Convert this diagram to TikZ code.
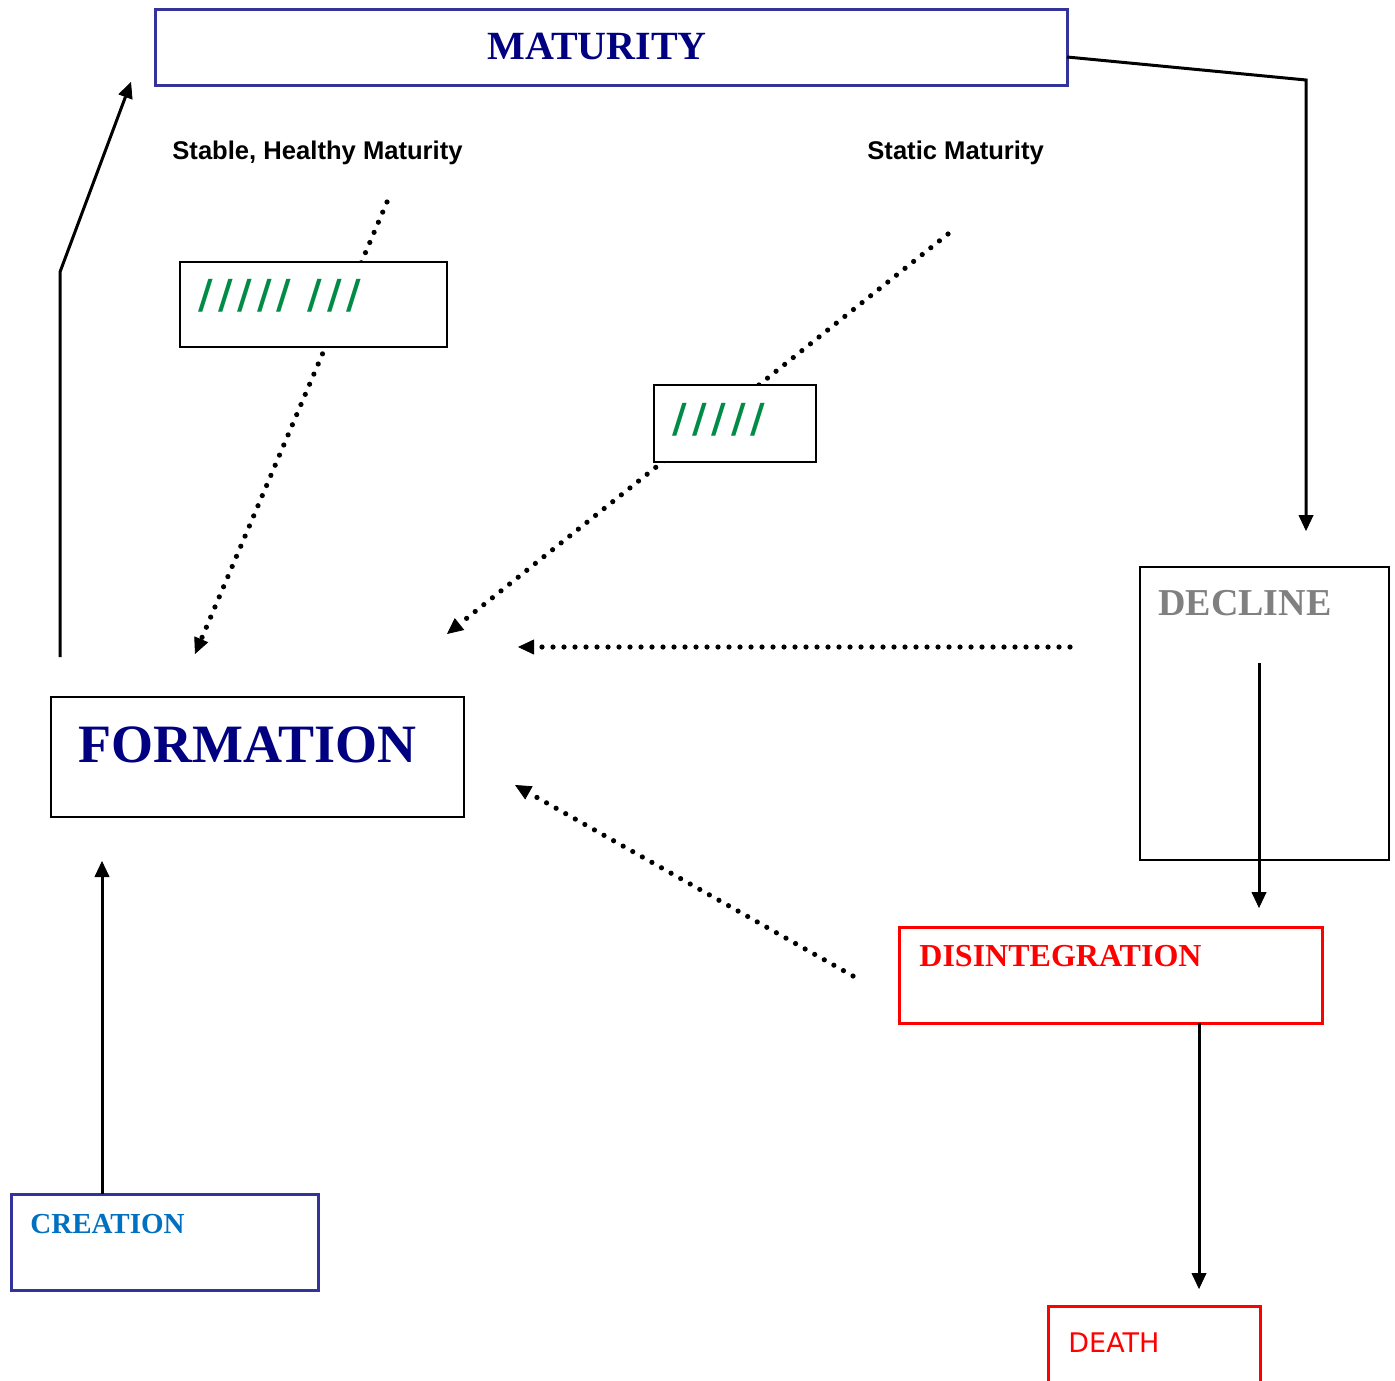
\documentclass[tikz,border=0pt]{standalone}
\usepackage{fontspec}
\setmainfont{Liberation Serif}
\newfontfamily\sansfont{Liberation Sans}
\newfontfamily\dejafont{DejaVu Sans}
\usetikzlibrary{arrows.meta}

\definecolor{navy}{RGB}{0,0,128}
\definecolor{boxblue}{RGB}{51,51,153}
\definecolor{creablue}{RGB}{0,112,192}
\definecolor{slashgreen}{RGB}{0,140,70}
\definecolor{declgray}{RGB}{128,128,128}

\newcommand{\slashmark}{/\kern2.5pt}

\begin{document}
\begin{tikzpicture}[x=0.5pt,y=-0.5pt,
  box/.style={draw,fill=white,rectangle,anchor=north west,inner sep=0pt,outer sep=0pt},
  txt/.style={anchor=base west,inner sep=0pt},
  flow/.style={line width=1.5pt,-{Triangle[length=8pt,width=7.5pt,line width=0.4pt]}},
  dots/.style={line width=2.6pt,line cap=round,dash pattern=on 0pt off 5.5pt,
    -{Triangle[length=8pt,width=7.5pt,line width=0.4pt]}}]

\path[use as bounding box] (0,0) rectangle (1395,1380);

% dotted feedback lines, drawn first so the slash boxes hide them
\coordinate (hm1) at (387,202);
\coordinate (hm2) at (195,654);
\coordinate (sm1) at (948,234);
\coordinate (sm2) at (447,634);
\coordinate (dc3) at (1070,647);
\coordinate (dc4) at (518,647);
\coordinate (di1) at (853,976);
\coordinate (di2) at (515,785);
\draw[dots] (hm1) -- (hm2);
\draw[dots] (sm1) -- (sm2);
\draw[dots] (dc3) -- (dc4);
\draw[dots] (di1) -- (di2);

% boxes
\node[box,draw=boxblue,line width=1.5pt,minimum width=456pt,minimum height=38pt] (maturity) at (155,10) {};
\node[anchor=base,inner sep=0pt,text=navy,font=\bfseries\fontsize{20}{24}\selectfont] (maturitytxt) at (597,60) {MATURITY};

\node[txt,font=\sansfont\bfseries\fontsize{12.8}{15}\selectfont] (healthylbl) at (172,160) {Stable, Healthy Maturity};
\node[txt,font=\sansfont\bfseries\fontsize{12.8}{15}\selectfont] (staticlbl) at (867,160) {Static Maturity};

\node[box,line width=0.6pt,minimum width=133.5pt,minimum height=42.5pt] (healthybox) at (180,262) {};
\node[txt,text=slashgreen,font=\dejafont\bfseries\fontsize{20}{24}\selectfont] (healthyslash) at (198,308) {\slashmark\slashmark\slashmark\slashmark/\hskip 8pt\slashmark\slashmark/};

\node[box,line width=0.6pt,minimum width=81pt,minimum height=38.5pt] (staticbox) at (654,385) {};
\node[txt,text=slashgreen,font=\dejafont\bfseries\fontsize{20}{24}\selectfont] (staticslash) at (672,432) {\slashmark\slashmark\slashmark\slashmark/};

\node[box,line width=1pt,minimum width=206.5pt,minimum height=60pt] (formation) at (51,697) {};
\node[txt,text=navy,font=\bfseries\fontsize{27}{30}\selectfont] (formationtxt) at (78,762) {FORMATION};

\node[box,line width=0.8pt,minimum width=124.5pt,minimum height=146.5pt] (decline) at (1140,567) {};
\node[txt,text=declgray,font=\bfseries\fontsize{19}{22}\selectfont] (declinetxt) at (1158,615) {DECLINE};

\node[box,draw=red,line width=1.5pt,minimum width=211.5pt,minimum height=48pt] (disint) at (899,927) {};
\node[txt,text=red,font=\bfseries\fontsize{16}{19}\selectfont] (disinttxt) at (919,966) {DISINTEGRATION};

\node[box,draw=boxblue,line width=1.5pt,minimum width=153.5pt,minimum height=48pt] (creation) at (11,1194) {};
\node[txt,text=creablue,font=\bfseries\fontsize{14.5}{17}\selectfont] (creationtxt) at (30,1233) {CREATION};

\node[box,draw=red,line width=1.5pt,minimum width=106pt,minimum height=60pt] (death) at (1048,1306) {};
\node[txt,text=red,font=\dejafont\fontsize{13.5}{16}\selectfont] (deathtxt) at (1068,1352) {DEATH};

% solid flow
\coordinate (fm1) at (60,657);
\coordinate (fm2) at (60,272);
\coordinate (fm3) at (131,82);
\draw[flow] (fm1) -- (fm2) -- (fm3);

\coordinate (dc1) at (1306,80);
\coordinate (dc2) at (1306,531);
\draw[flow] ([yshift=-4.5pt]maturity.east) -- (dc1) -- (dc2);

\coordinate (dl1) at (1259,663);
\coordinate (dl2) at (1259,908);
\draw[flow] (dl1) -- (dl2);

\coordinate (de1) at (1199,1289);
\draw[flow] ([xshift=44.25pt]disint.south) -- (de1);

\coordinate (cr1) at (102,861);
\draw[flow] ([xshift=-31.25pt]creation.north) -- (cr1);
\end{tikzpicture}
\end{document}
